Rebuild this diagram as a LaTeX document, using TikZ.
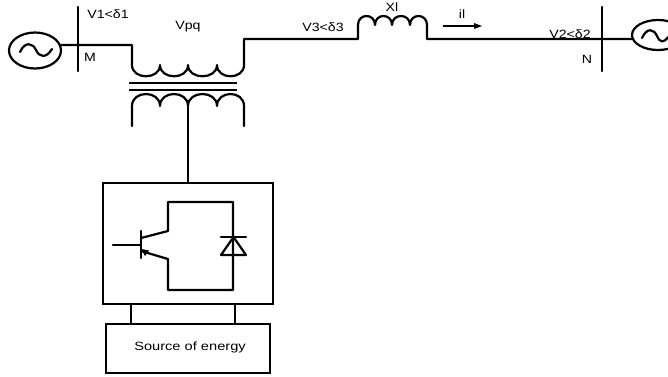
\documentclass[tikz,border=0pt]{standalone}
\usepackage{graphicx}
\usepackage{fontspec}
\usetikzlibrary{shapes.geometric}
\setmainfont{Liberation Sans}
\newcommand{\stretched}[1]{\scalebox{1.18}[1]{#1}}
\begin{document}
\begin{tikzpicture}[x=1pt,y=-1pt,
  wire/.style={line width=2.2pt,line join=round,line cap=round,black},
  thin wire/.style={line width=1.7pt,line join=miter,black},
  lbl/.style={font=\fontsize{12}{14}\selectfont,inner sep=0pt,text=black},
  blk/.style={draw=black,line width=2.2pt,fill=none,rectangle,inner sep=0pt},
  gen/.style={draw=black,line width=2.2pt,ellipse,minimum width=52pt,minimum height=36pt,inner sep=0pt}]
\useasboundingbox (0,0) rectangle (668,376);
% sources
\node[gen] (srcL) at (35,50.5) {};
\draw[wire] (20,52) .. controls (25,41) and (33,43) .. (36,50) .. controls (39,57) and (46,59) .. (52,49);
\node[gen,minimum height=30pt] (srcR) at (658,35) {};
\draw[wire] (642,38) .. controls (647,27) and (654,29) .. (657,36) .. controls (660,43) and (664,43) .. (668,37);
% buses
\coordinate (mT) at (78,7); \coordinate (mB) at (78,71);
\coordinate (nT) at (602,7); \coordinate (nB) at (602,71);
\draw[wire] (mT) -- (mB);
\draw[wire] (nT) -- (nB);
% primary, line and inductor
\coordinate (a) at (61,45);
\coordinate (z) at (632,39);
\draw[wire] (a) -- (132,45) -- (132,65)
  .. controls (132,80) and (160,80) .. (160,65)
  .. controls (160,80) and (188,80) .. (188,65)
  .. controls (188,80) and (217,80) .. (217,65)
  .. controls (217,80) and (244,80) .. (244,65)
  -- (244,39) -- (358,39) -- (358,25)
  .. controls (358,13) and (375,13) .. (375,25)
  .. controls (375,13) and (392,13) .. (392,25)
  .. controls (392,13) and (410,13) .. (410,25)
  .. controls (410,13) and (427,13) .. (427,25)
  -- (427,39) -- (z);
% core
\coordinate (c1a) at (129,83); \coordinate (c1b) at (237,83);
\coordinate (c2a) at (129,90); \coordinate (c2b) at (237,90);
\draw[thin wire] (c1a) -- (c1b);
\draw[thin wire] (c2a) -- (c2b);
% secondary
\draw[wire] (132,126) -- (132,106)
  .. controls (132,90) and (160,90) .. (160,106)
  .. controls (160,90) and (188,90) .. (188,106)
  .. controls (188,90) and (217,90) .. (217,106)
  .. controls (217,90) and (244,90) .. (244,106) -- (244,126);
% converter box
\node[blk,minimum width=170pt,minimum height=121pt] (conv) at (188,243.5) {};
\coordinate (sec) at (188,106);
\draw[wire] (sec) -- (conv.north);
% source box
\node[blk,minimum width=164pt,minimum height=49pt] (energy) at (188,348.5) {};
\node[lbl] (etext) at (190,347) {\scalebox{1.22}[1]{Source of energy}};
\draw[wire] (131,304) -- (131,324);
\draw[wire] (235,304) -- (235,324);
% IGBT
\draw[wire] (113,245) -- (141,245);
\draw[wire] (141,231) -- (141,258);
\draw[wire] (141,238) -- (168,231) -- (168,202) -- (233,202) -- (233,290) -- (168,290) -- (168,259) -- (141,251);
\fill[black] (141.5,249) -- (149,250.5) -- (145,256) -- cycle;
% diode
\draw[wire] (221,237) -- (246,237);
\draw[wire] (233.5,237) -- (246,255) -- (221,255) -- cycle;
% arrow
\coordinate (ia) at (443,26); \coordinate (ib) at (482,26);
\draw[line width=1.8pt,black] (ia) -- (476,26);
\fill[black] (ib) -- (474,23) -- (474,29) -- cycle;
% labels
\node[lbl] (v1) at (108,14) {\stretched{V1<δ1}};
\node[lbl] (m) at (90,57) {\stretched{M}};
\node[lbl] (vpq) at (188,27) {\stretched{Vpq}};
\node[lbl] (v3) at (323,27) {\stretched{V3<δ3}};
\node[lbl] (xl) at (392,7.5) {\stretched{Xl}};
\node[lbl] (il) at (462,14) {\stretched{il}};
\node[lbl] (v2) at (570,34) {\stretched{V2<δ2}};
\node[lbl] (n) at (587,59) {\stretched{N}};
\end{tikzpicture}
\end{document}
